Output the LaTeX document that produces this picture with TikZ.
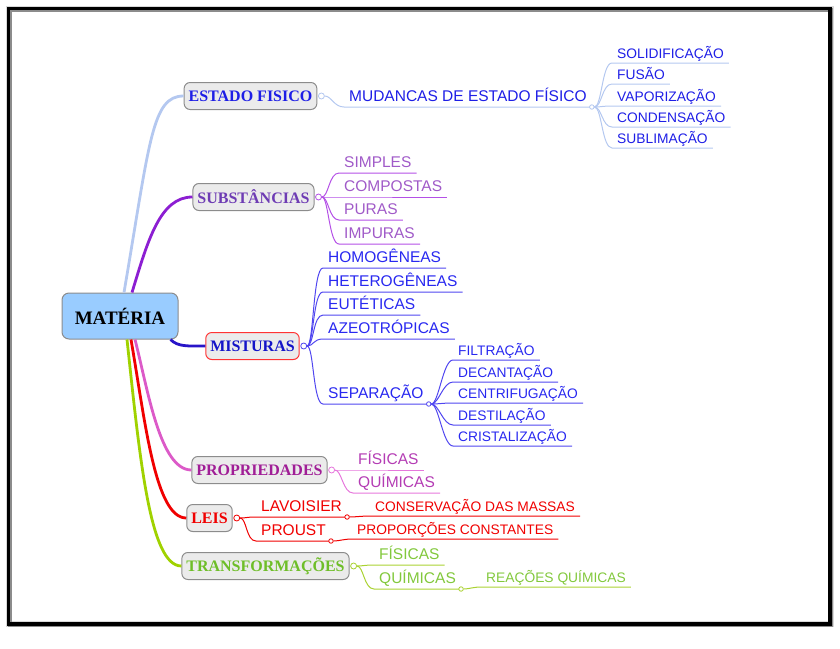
\documentclass[tikz,border=0pt]{standalone}
\usepackage{fontspec}
\setmainfont{Liberation Serif}
\setsansfont{Liberation Sans}
\definecolor{matfill}{HTML}{99CCFF}
\definecolor{boxfill}{HTML}{EBEBEB}
\definecolor{boxline}{HTML}{8C8C8C}
\definecolor{estL}{HTML}{B4C8F0}
\definecolor{estT}{HTML}{1E1EE6}
\definecolor{subM}{HTML}{8C1ED2}
\definecolor{subT}{HTML}{6E3CB4}
\definecolor{subL}{HTML}{B450E6}
\definecolor{subLT}{HTML}{A05AC8}
\definecolor{misM}{HTML}{2814C8}
\definecolor{misT}{HTML}{1414C8}
\definecolor{misL}{HTML}{5046F0}
\definecolor{misLT}{HTML}{2828F0}
\definecolor{proM}{HTML}{DC5AC8}
\definecolor{proT}{HTML}{A01E96}
\definecolor{proL}{HTML}{E678DC}
\definecolor{proLT}{HTML}{B43CB4}
\definecolor{leiM}{HTML}{F00000}
\definecolor{traM}{HTML}{A0D200}
\definecolor{traT}{HTML}{6EBE28}
\definecolor{traL}{HTML}{AAD232}
\definecolor{traLT}{HTML}{82C83C}
\begin{document}
\begin{tikzpicture}[x=1pt,y=-1pt,
topic/.style={draw=boxline,fill=boxfill,rounded corners=6pt,line width=1pt,inner xsep=4.5pt,minimum height=27pt,font=\bfseries\fontsize{16}{16}\selectfont},
leaf/.style={anchor=south west,inner xsep=5pt,inner ysep=5.5pt,text height=11pt,text depth=0pt,font=\sffamily\fontsize{15.5}{16}\selectfont},
twig/.style={leaf,inner ysep=4pt,text height=10pt,font=\sffamily\fontsize{13.8}{14}\selectfont},
knob/.style={circle,draw,fill=white,inner sep=0pt,minimum size=6pt,line width=0.8pt},
bead/.style={knob,minimum size=4.5pt},
limb/.style={line width=2.8pt},
wire/.style={line width=1pt}]
\useasboundingbox (0,0) rectangle (840,648);
\draw[black!15,line width=6pt] (8.5,8.5) rectangle (830.5,624);
\draw[black!45,line width=3.5pt] (9.8,9.8) rectangle (831.3,625.3);
\draw[line width=3.5pt] (8.5,8.5) rectangle (830,623.8);
\node[draw=boxline,fill=matfill,rounded corners=7pt,line width=1pt,minimum width=116pt,minimum height=46pt,font=\bfseries\fontsize{19}{19}\selectfont] (mat) at (120,316) {MATÉRIA};
\node[topic,text=estT] (est) at (250.5,96) {ESTADO FISICO};
\node[topic,text=subT] (sub) at (253.5,197) {SUBSTÂNCIAS};
\node[topic,draw=red!80,text=misT] (mis) at (252.5,346) {MISTURAS};
\node[topic,text=proT] (pro) at (259.5,470) {PROPRIEDADES};
\node[topic,text=leiM] (lei) at (209.5,518) {LEIS};
\node[topic,text=traT] (tra) at (265.5,566) {TRANSFORMAÇÕES};
\draw[limb,estL] ([xshift=4pt]mat.north) .. controls (150,140) and (152,96) .. (est.west);
\draw[limb,subM] ([xshift=12pt]mat.north) .. controls (148,240) and (160,197) .. (sub.west);
\draw[limb,misM] ([xshift=-8pt]mat.south east) .. controls (178,347) and (188,346) .. (mis.west);
\draw[limb,proM] ([xshift=15pt]mat.south) .. controls (148,390) and (160,470) .. (pro.west);
\draw[limb,leiM] ([xshift=11pt]mat.south) .. controls (145,420) and (155,518) .. (lei.west);
\draw[limb,traM] ([xshift=7pt]mat.south) .. controls (140,460) and (150,566) .. (tra.west);
\node[knob,draw=estL] (estk) at ([xshift=4pt]est.east) {};
\node[knob,draw=subL] (subk) at ([xshift=4pt]sub.east) {};
\node[knob,draw=misL] (misk) at ([xshift=4pt]mis.east) {};
\node[knob,draw=proL] (prok) at ([xshift=4pt]pro.east) {};
\node[knob,draw=leiM] (leik) at ([xshift=4pt]lei.east) {};
\node[knob,draw=traL] (trak) at ([xshift=4pt]tra.east) {};
\node[leaf,text=estT] (mud) at (344,107) {MUDANCAS DE ESTADO FÍSICO};
\draw[wire,estL] (estk) .. controls +(10,0) and +(-10,0) .. (mud.south west) -- (mud.south east);
\node[bead,draw=estL] (mudk) at (mud.south east) {};
\foreach \lbl/\y [count=\i] in {SOLIDIFICAÇÃO/63,FUSÃO/84,VAPORIZAÇÃO/106,CONDENSAÇÃO/127,SUBLIMAÇÃO/148}{
\node[twig,text=estT] (mud\i) at (612,\y) {\lbl};
\draw[wire,estL] (mudk) .. controls +(10,0) and +(-10,0) .. (mud\i.south west) -- (mud\i.south east);
}
\foreach \lbl/\y [count=\i] in {SIMPLES/173,COMPOSTAS/197,PURAS/220,IMPURAS/244}{
\node[leaf,text=subLT] (sub\i) at (339,\y) {\lbl};
\draw[wire,subL] (subk) .. controls +(10,0) and +(-10,0) .. (sub\i.south west) -- (sub\i.south east);
}
\foreach \lbl/\y [count=\i] in {HOMOGÊNEAS/268,HETEROGÊNEAS/292,EUTÉTICAS/315,AZEOTRÓPICAS/339,SEPARAÇÃO/404}{
\node[leaf,text=misLT] (mis\i) at (323,\y) {\lbl};
\draw[wire,misL] (misk) .. controls +(10,0) and +(-10,0) .. (mis\i.south west) -- (mis\i.south east);
}
\node[bead,draw=misL] (sepk) at (mis5.south east) {};
\foreach \lbl/\y [count=\i] in {FILTRAÇÃO/360,DECANTAÇÃO/382,CENTRIFUGAÇÃO/403,DESTILAÇÃO/425,CRISTALIZAÇÃO/446}{
\node[twig,text=misLT] (sep\i) at (453,\y) {\lbl};
\draw[wire,misL] (sepk) .. controls +(10,0) and +(-10,0) .. (sep\i.south west) -- (sep\i.south east);
}
\foreach \lbl/\y [count=\i] in {FÍSICAS/470,QUÍMICAS/493}{
\node[leaf,text=proLT] (pro\i) at (353,\y) {\lbl};
\draw[wire,proL] (prok) .. controls +(10,0) and +(-10,0) .. (pro\i.south west) -- (pro\i.south east);
}
\foreach \lbl/\y [count=\i] in {LAVOISIER/517,PROUST/541}{
\node[leaf,text=leiM] (lei\i) at (256,\y) {\lbl};
\draw[wire,leiM] (leik) .. controls +(10,0) and +(-10,0) .. (lei\i.south west) -- (lei\i.south east);
\node[bead,draw=leiM] (lei\i k) at (lei\i.south east) {};
}
\node[twig,text=leiM] (lav) at (370,516) {CONSERVAÇÃO DAS MASSAS};
\draw[wire,leiM] (lei1k) .. controls +(8,0) and +(-8,0) .. (lav.south west) -- (lav.south east);
\node[twig,text=leiM] (prs) at (352,539) {PROPORÇÕES CONSTANTES};
\draw[wire,leiM] (lei2k) .. controls +(8,0) and +(-8,0) .. (prs.south west) -- (prs.south east);
\foreach \lbl/\y [count=\i] in {FÍSICAS/565,QUÍMICAS/589}{
\node[leaf,text=traLT] (tra\i) at (374,\y) {\lbl};
\draw[wire,traL] (trak) .. controls +(10,0) and +(-10,0) .. (tra\i.south west) -- (tra\i.south east);
}
\node[bead,draw=traL] (quik) at (tra2.south east) {};
\node[twig,text=traLT] (rea) at (481,587) {REAÇÕES QUÍMICAS};
\draw[wire,traL] (quik) .. controls +(8,0) and +(-8,0) .. (rea.south west) -- (rea.south east);
\end{tikzpicture}
\end{document}
